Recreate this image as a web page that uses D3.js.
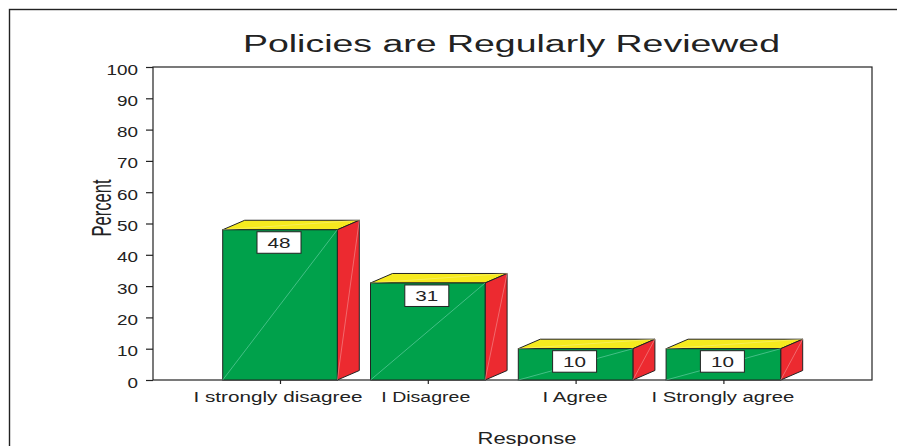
<!DOCTYPE html>
<html>
<head>
<meta charset="utf-8">
<script src="https://cdn.jsdelivr.net/npm/d3@7"></script>
<style>
  html, body { margin: 0; padding: 0; background: #fff; }
  svg { display: block; }
  text { font-family: "Liberation Sans", Arial, Helvetica, sans-serif; fill: #222; }
</style>
</head>
<body>
<svg id="chart" width="897" height="446"></svg>
<script>
// ---- data ----
const categories = ["I strongly disagree", "I Disagree", "I Agree", "I Strongly agree"];
const values = [48, 31, 10, 10];
const yTicks = [0, 10, 20, 30, 40, 50, 60, 70, 80, 90, 100];
const titleText = "Policies are Regularly Reviewed";
const xTitle = "Response";
const yTitle = "Percent";

// ---- layout ----
const W = 897, H = 446;
const plot = { left: 153, right: 872, top: 67, bottom: 380 };
const barW = 114.6, depthX = 22, depthY = 9.5;
const labelWidths = [169, 89, 65, 143];
const colors = { front: "#00a14b", top: "#f6ea1f", side: "#ec2a30", stroke: "#222" };

const svg = d3.select("#chart");

// outer frame (extends past the picture on right/bottom)
svg.append("rect").attr("x", 9.5).attr("y", 9.5).attr("width", 1000).attr("height", 1000)
  .attr("fill", "none").attr("stroke", "#222").attr("stroke-width", 1.4);

const y = d3.scaleLinear().domain([0, 100]).range([plot.bottom, plot.top]);
const x = d3.scalePoint().domain(categories).range([280, 723.4]);

// plot frame
svg.append("rect").attr("x", plot.left).attr("y", plot.top)
  .attr("width", plot.right - plot.left).attr("height", plot.bottom - plot.top)
  .attr("fill", "none").attr("stroke", "#222").attr("stroke-width", 1.2);

// y axis
const yAxis = d3.axisLeft(y).tickValues(yTicks).tickSize(7).tickPadding(8).tickFormat(d3.format("d"));
const gy = svg.append("g").attr("transform", `translate(${plot.left},0)`).call(yAxis);
gy.select(".domain").remove();
gy.selectAll(".tick line").attr("stroke", "#222").attr("stroke-width", 1.2);
gy.selectAll(".tick text")
  .attr("font-size", 14).attr("dy", "0.5em").attr("fill", "#222")
  .attr("font-family", "'Liberation Sans', Arial, sans-serif")
  .attr("textLength", d => String(d).length * 10.5)
  .attr("lengthAdjust", "spacingAndGlyphs");

// x axis
const xAxis = d3.axisBottom(x).tickSize(4).tickPadding(7);
const gx = svg.append("g").attr("transform", `translate(0,${plot.bottom})`).call(xAxis);
gx.select(".domain").remove();
gx.selectAll(".tick line").attr("stroke", "#222").attr("stroke-width", 1.2);
gx.selectAll(".tick text")
  .attr("font-size", 14).attr("fill", "#222").attr("dy", "0.78em")
  .attr("font-family", "'Liberation Sans', Arial, sans-serif")
  .attr("transform", (d, i) => `translate(${[-2.5, -2.5, -1, -1][i]},0)`)
  .attr("textLength", (d, i) => labelWidths[i])
  .attr("lengthAdjust", "spacingAndGlyphs");

// bars
const bars = svg.append("g");
categories.forEach((c, i) => {
  const v = values[i];
  const x0 = x(c) - barW / 2, x1 = x(c) + barW / 2;
  const y0 = y(0), y1 = y(v);
  const g = bars.append("g");
  // top face
  g.append("path")
    .attr("d", `M${x0},${y1} L${x0 + depthX},${y1 - depthY} L${x1 + depthX},${y1 - depthY} L${x1},${y1} Z`)
    .attr("fill", colors.top).attr("stroke", colors.stroke).attr("stroke-width", 1).attr("stroke-linejoin", "round");
  // side face
  g.append("path")
    .attr("d", `M${x1},${y1} L${x1 + depthX},${y1 - depthY} L${x1 + depthX},${y0 - depthY} L${x1},${y0} Z`)
    .attr("fill", colors.side).attr("stroke", colors.stroke).attr("stroke-width", 1).attr("stroke-linejoin", "round");
  // front face
  g.append("rect").attr("x", x0).attr("y", y1).attr("width", barW).attr("height", y0 - y1)
    .attr("fill", colors.front).attr("stroke", colors.stroke).attr("stroke-width", 1);
  // faint diagonals
  g.append("line").attr("x1", x0).attr("y1", y0).attr("x2", x1).attr("y2", y1)
    .attr("stroke", "#8fe0c8").attr("stroke-width", 0.6).attr("opacity", 0.8);
  g.append("line").attr("x1", x1).attr("y1", y0).attr("x2", x1 + depthX).attr("y2", y1 - depthY)
    .attr("stroke", "#f7b0b0").attr("stroke-width", 0.6).attr("opacity", 0.8);
  g.append("line").attr("x1", x0).attr("y1", y1).attr("x2", x1 + depthX).attr("y2", y1 - depthY)
    .attr("stroke", "#fbf5a0").attr("stroke-width", 0.6).attr("opacity", 0.7);
  // value label box
  const bw = 44, bh = 21.5;
  const bx = x(c) - bw / 2 - 1, by = y1 + 2;
  g.append("rect").attr("x", bx).attr("y", by).attr("width", bw).attr("height", bh)
    .attr("fill", "#fff").attr("stroke", colors.stroke).attr("stroke-width", 1);
  g.append("text").attr("x", bx + bw / 2).attr("y", by + bh / 2 + 5.5)
    .attr("text-anchor", "middle").attr("font-size", 15)
    .attr("textLength", String(v).length * 11.5).attr("lengthAdjust", "spacingAndGlyphs")
    .text(v);
});

// title
svg.append("text").attr("x", 511.5).attr("y", 52).attr("text-anchor", "middle")
  .attr("font-size", 23.5).attr("textLength", 537).attr("lengthAdjust", "spacingAndGlyphs")
  .text(titleText);

// x title
svg.append("text").attr("x", 527).attr("y", 444).attr("text-anchor", "middle")
  .attr("font-size", 16).attr("textLength", 99).attr("lengthAdjust", "spacingAndGlyphs")
  .text(xTitle);

// y title
svg.append("text").attr("transform", "translate(111,208) rotate(-90)")
  .attr("text-anchor", "middle").attr("font-size", 27)
  .attr("textLength", 57).attr("lengthAdjust", "spacingAndGlyphs")
  .text(yTitle);
</script>
</body>
</html>
